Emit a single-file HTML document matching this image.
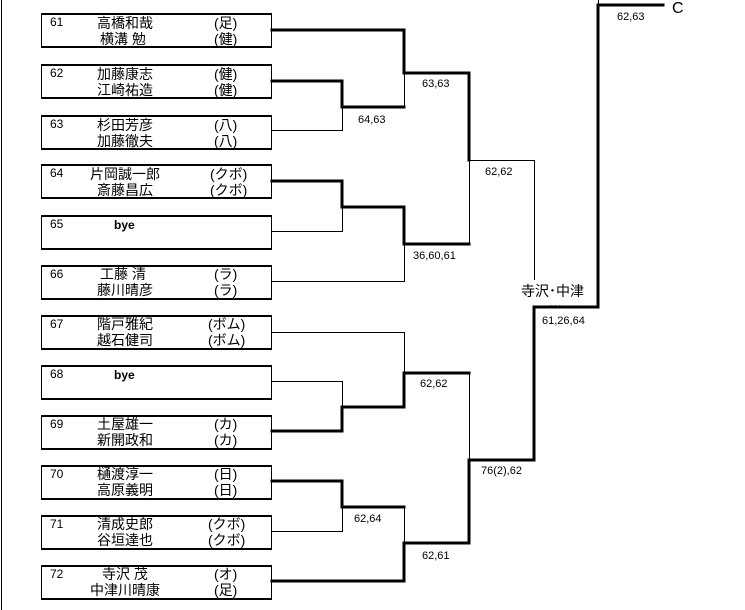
<!DOCTYPE html>
<html><head><meta charset="utf-8"><style>
html,body{margin:0;padding:0;background:#fff;}
body{width:745px;height:610px;overflow:hidden;position:relative;font-family:"Liberation Sans","Noto Sans CJK JP",sans-serif;}
svg{position:absolute;left:0;top:0;}
.n{font-size:12px;}
.j{font-size:14px;font-family:"Liberation Sans","Noto Sans CJK JP",sans-serif;}
.l{font-size:11px;}
</style></head><body>
<svg width="745" height="610" viewBox="0 0 745 610" xmlns="http://www.w3.org/2000/svg">
<line x1="1.5" y1="0" x2="1.5" y2="610" stroke="#000" stroke-width="1"/>
<g fill="none" stroke="#000">
<g stroke-width="1">
<rect x="41.5" y="13.5" width="230" height="33"/>
<rect x="41.5" y="64.5" width="230" height="33"/>
<rect x="41.5" y="115.5" width="230" height="33"/>
<rect x="41.5" y="164.5" width="230" height="33"/>
<rect x="41.5" y="215.5" width="230" height="33"/>
<rect x="41.5" y="265.5" width="230" height="33"/>
<rect x="41.5" y="315.5" width="230" height="33"/>
<rect x="41.5" y="365.5" width="230" height="33"/>
<rect x="41.5" y="415.5" width="230" height="33"/>
<rect x="41.5" y="465.5" width="230" height="33"/>
<rect x="41.5" y="515.5" width="230" height="33"/>
<rect x="41.5" y="565.5" width="230" height="33"/>
</g>
<g stroke-width="2">
<path d="M41 14H272M41 65H272M41 116H272M41 165H272M41 216H272M41 266H272M41 316H272M41 366H272M41 416H272M41 466H272M41 516H272M41 566H272"/>
<path d="M41 47H272M41 98H272M41 149H272M41 198H272M41 249H272M41 299H272M41 349H272M41 399H272M41 449H272M41 499H272M41 549H272M41 599H272"/>
</g>
<g stroke-width="1">
<path d="M272 130.5H342.5V107"/>
<path d="M404.5 73V107"/>
<path d="M272 231.5H342.5V207"/>
<path d="M272 281.5H404.5V244"/>
<path d="M469.5 160V244"/>
<path d="M469 160.5H534.5V280"/>
<path d="M598.5 307V0"/>
<path d="M272 332.5H404.5V373"/>
<path d="M272 381.5H342.5V407"/>
<path d="M469.5 373V460"/>
<path d="M272 531.5H342.5V507"/>
<path d="M404.5 507V543"/>
</g>
<g stroke-width="3" stroke-linecap="square">
<path d="M272 30H404V73H469V160"/>
<path d="M272 81H342V107H404"/>
<path d="M272 181H342V207H404V244H469"/>
<path d="M272 431H342V407H404V373H469"/>
<path d="M272 481H342V507H404"/>
<path d="M272 581H404V543H469V460H534V307H598V5H663"/>
<path d="M534 307V330"/>
</g>
</g>
<g fill="#000">
<g class="n">
<text x="50" y="26">61</text><text x="50" y="77">62</text><text x="50" y="128">63</text><text x="50" y="177">64</text><text x="50" y="228">65</text><text x="50" y="278">66</text>
<text x="50" y="328">67</text><text x="50" y="378">68</text><text x="50" y="428">69</text><text x="50" y="478">70</text><text x="50" y="528">71</text><text x="50" y="578">72</text>
</g>
<g class="j">
<text x="97" y="28">高橋和哉</text><text x="214" y="28">(足)</text>
<text x="100" y="44">横溝 勉</text><text x="214" y="44">(健)</text>
<text x="97" y="79">加藤康志</text><text x="214" y="79">(健)</text>
<text x="97" y="95">江崎祐造</text><text x="214" y="95">(健)</text>
<text x="97" y="130">杉田芳彦</text><text x="214" y="130">(八)</text>
<text x="97" y="146">加藤徹夫</text><text x="214" y="146">(八)</text>
<text x="90" y="179">片岡誠一郎</text><text x="210" y="179">(クボ)</text>
<text x="97" y="195">斎藤昌広</text><text x="210" y="195">(クボ)</text>
<text x="100" y="279">工藤 清</text><text x="214" y="279">(ラ)</text>
<text x="97" y="295">藤川晴彦</text><text x="214" y="295">(ラ)</text>
<text x="97" y="329">階戸雅紀</text><text x="208" y="329">(ボム)</text>
<text x="97" y="345">越石健司</text><text x="208" y="345">(ボム)</text>
<text x="97" y="429">土屋雄一</text><text x="214" y="429">(カ)</text>
<text x="97" y="445">新開政和</text><text x="214" y="445">(カ)</text>
<text x="97" y="479">樋渡淳一</text><text x="214" y="479">(日)</text>
<text x="97" y="495">高原義明</text><text x="214" y="495">(日)</text>
<text x="97" y="529">清成史郎</text><text x="208" y="529">(クボ)</text>
<text x="97" y="545">谷垣達也</text><text x="208" y="545">(クボ)</text>
<text x="102" y="579">寺沢 茂</text><text x="214" y="579">(オ)</text>
<text x="90" y="595">中津川晴康</text><text x="214" y="595">(足)</text>
</g>
<text x="114" y="229" font-size="12" font-weight="bold">bye</text>
<text x="114" y="379" font-size="12" font-weight="bold">bye</text>
<g class="l">
<text x="358" y="123">64,63</text>
<text x="422" y="87">63,63</text>
<text x="485" y="175">62,62</text>
<text x="413" y="259">36,60,61</text>
<text x="617" y="20">62,63</text>
<text x="542" y="324">61,26,64</text>
<text x="420" y="387">62,62</text>
<text x="354" y="522">62,64</text>
<text x="422" y="559">62,61</text>
<text x="481" y="474">76(2),62</text>
</g>
<text x="521" y="296" font-size="14">寺沢･中津</text>
<text x="550" y="306" font-size="8">. . .</text>
<text x="672" y="13" font-size="16">C</text>
</g>
</svg>
</body></html>
